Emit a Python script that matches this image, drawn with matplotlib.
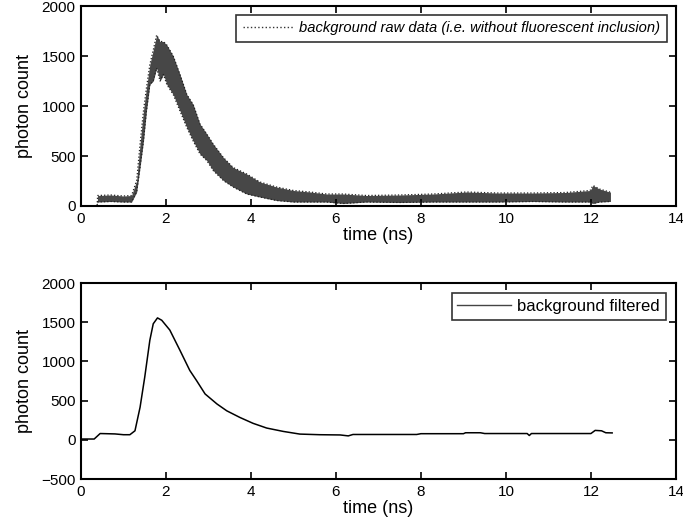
# Background photon count: raw vs filtered
import matplotlib
matplotlib.use('Agg')
import matplotlib.pyplot as plt
from matplotlib.lines import Line2D

plt.rcParams['font.family'] = ['Liberation Sans', 'DejaVu Sans']

# raw data, read as lower / upper envelope of the noisy trace
raw_t = [0.0, 0.38, 0.39, 0.7, 1.0, 1.19, 1.31, 1.39, 1.47, 1.54, 1.62, 1.70,
         1.78, 1.86, 1.94, 2.02, 2.17, 2.33, 2.49, 2.64, 2.80, 2.96, 3.11,
         3.35, 3.58, 3.90, 4.21, 4.60, 5.00, 5.39, 5.78, 6.17, 6.72, 7.5,
         8.29, 9.07, 9.8, 10.64, 11.4, 11.98, 12.05, 12.2, 12.44, 12.46]
raw_lo = [0, 0, 40, 45, 40, 40, 140, 390, 650, 950, 1215, 1250, 1380, 1250,
          1315, 1215, 1115, 950, 785, 650, 520, 455, 355, 255, 190, 120, 90,
          55, 40, 40, 40, 25, 40, 35, 40, 40, 40, 45, 40, 40, 25, 40, 45, 45]
raw_hi = [0, 0, 105, 110, 100, 105, 255, 620, 950, 1180, 1415, 1560, 1710,
          1645, 1645, 1610, 1500, 1315, 1115, 1015, 820, 720, 620, 485, 385,
          320, 240, 190, 155, 140, 120, 120, 105, 110, 120, 140, 130, 130,
          135, 155, 205, 170, 140, 140]

# filtered curve
filt_t = [0.0, 0.31, 0.45, 0.6, 0.8, 1.0, 1.15, 1.27, 1.39, 1.50, 1.62, 1.70,
          1.80, 1.90, 2.09, 2.33, 2.56, 2.72, 2.92, 3.20, 3.43, 3.74, 4.05,
          4.37, 4.76, 5.15, 5.62, 6.1, 6.29, 6.4, 7.9, 8.0, 9.0, 9.05, 9.4,
          9.5, 10.5, 10.55, 10.6, 12.0, 12.1, 12.25, 12.35, 12.5]
filt_v = [10, 10, 80, 78, 75, 65, 65, 115, 415, 800, 1270, 1480, 1555, 1525,
          1400, 1140, 885, 755, 585, 457, 370, 285, 210, 150, 107, 73, 65, 62,
          50, 68, 68, 78, 78, 90, 90, 80, 80, 55, 80, 80, 120, 115, 90, 88]

x_ticks = [0, 2, 4, 6, 8, 10, 12, 14]


def style_axes(ax, ylim, yticks):
    ax.set_xlim(0, 14)
    ax.set_ylim(*ylim)
    ax.set_xticks(x_ticks)
    ax.set_yticks(yticks)
    ax.tick_params(direction='in', top=True, right=True, length=5,
                   width=1.2, labelsize=11, pad=4)
    for s in ax.spines.values():
        s.set_linewidth(1.5)
    ax.set_xlabel('time (ns)', fontsize=13, labelpad=1)
    ax.set_ylabel('photon count', fontsize=13, labelpad=6)


fig = plt.figure(figsize=(6.83, 5.29), dpi=100)

ax1 = fig.add_axes([0.1186, 0.6106, 0.871, 0.378])
ax1.fill_between(raw_t, raw_lo, raw_hi, color='#474747', linewidth=0)
ax1.plot(raw_t, raw_lo, color='#222222', linestyle=':', linewidth=0.9)
ax1.plot(raw_t, raw_hi, color='#222222', linestyle=':', linewidth=0.9)
style_axes(ax1, (0, 2000), [0, 500, 1000, 1500, 2000])
h1 = Line2D([], [], color='#333333', linestyle=':', linewidth=1)
leg1 = ax1.legend([h1], ['background raw data (i.e. without fluorescent inclusion)'],
                  loc='upper right', fancybox=False, edgecolor='black',
                  prop={'size': 10.6, 'style': 'italic'}, handlelength=3.4,
                  handletextpad=0.45, borderaxespad=0.6, borderpad=0.45)
leg1.get_frame().set_linewidth(1.2)

ax2 = fig.add_axes([0.1186, 0.0945, 0.871, 0.3705])
ax2.plot(filt_t, filt_v, color='black', linewidth=1.1)
style_axes(ax2, (-500, 2000), [-500, 0, 500, 1000, 1500, 2000])
h2 = Line2D([], [], color='#444444', linewidth=1)
leg2 = ax2.legend([h2], ['background filtered'], loc='upper right',
                  fancybox=False, edgecolor='black', prop={'size': 12},
                  handlelength=3.2, handletextpad=0.4, borderaxespad=0.6,
                  borderpad=0.35)
leg2.get_frame().set_linewidth(1.2)

fig.savefig('out.png', dpi=100)
